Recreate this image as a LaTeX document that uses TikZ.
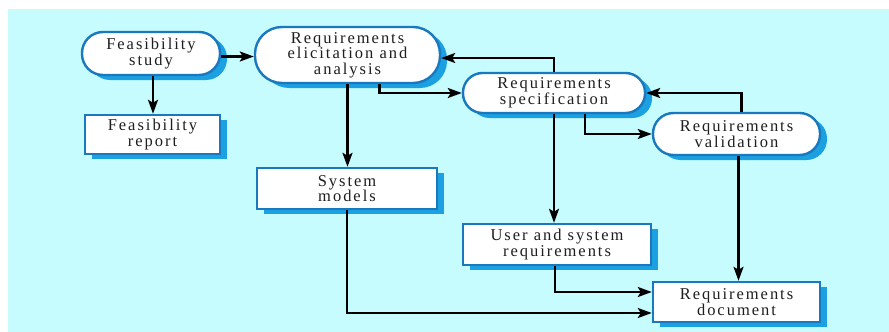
\documentclass[tikz,border=0pt]{standalone}
\usepackage{fontspec}
\setmainfont{Liberation Serif}[LetterSpace=12]
\usetikzlibrary{arrows.meta,shadows}
\definecolor{bgc}{RGB}{198,252,253}
\definecolor{edgec}{RGB}{25,120,190}
\definecolor{shadc}{RGB}{27,160,225}
\definecolor{txtc}{RGB}{30,30,30}
\begin{document}
\begin{tikzpicture}[x=1pt,y=-1pt,
  boxbase/.style={draw=edgec, line width=2.4pt, fill=white, align=center,
    text=txtc, font=\fontsize{16.5}{15.5}\selectfont, inner sep=0pt,
    drop shadow={shadow xshift=7pt, shadow yshift=-5pt, fill=shadc, opacity=1}},
  procbox/.style={boxbase},
  databox/.style={boxbase},
  flow/.style={line width=2.4pt, black, -{Stealth[length=14pt,width=10pt,inset=3pt]}}]
\useasboundingbox (0,0) rectangle (889,332);
\fill[white] (0,0) rectangle (889,332);
\fill[bgc] (8,9) rectangle (889,332);

\node[procbox, rounded corners=21pt, minimum width=138pt, minimum height=43pt] (fs) at (151,53.5) {Feasibility\\study};
\node[databox, minimum width=135pt, minimum height=39pt] (fr) at (152.5,134.5) {Feasibility\\report};
\node[procbox, rounded corners=27pt, minimum width=185pt, minimum height=56pt] (el) at (347.5,55) {Requirements\\elicitation and\\analysis};
\node[databox, minimum width=180pt, minimum height=41pt] (sm) at (347,188.5) {System\\models};
\node[procbox, rounded corners=19.5pt, minimum width=182pt, minimum height=40pt] (sp) at (554,93) {Requirements\\specification};
\node[procbox, rounded corners=20.5pt, minimum width=167pt, minimum height=42pt] (va) at (736.5,134) {Requirements\\validation};
\node[databox, minimum width=188pt, minimum height=41pt] (us) at (557,244.5) {User and system\\requirements};
\node[databox, minimum width=167pt, minimum height=40pt] (rd) at (736.5,302) {Requirements\\document};

\draw[flow] ([yshift=-3pt]fs.east) -- ([yshift=-3pt]fs.east -| el.west);
\draw[flow] ([xshift=2pt]fs.south) -- ([xshift=2pt]fs.south |- fr.north);
\draw[flow] (el.south) -- (el.south |- sm.north);
\draw[flow] ([xshift=32pt]el.south) |- (sp.west);
\draw[flow] (sp.north) |- ([yshift=-3pt]el.east);
\draw[flow] ([xshift=5pt]va.north) |- (sp.east);
\draw[flow] ([xshift=31pt]sp.south) |- (va.west);
\draw[flow] (sp.south) -- (sp.south |- us.north);
\draw[flow] ([xshift=2pt]va.south) -- ([xshift=2pt]va.south |- rd.north);
\draw[flow] ([xshift=-2pt]us.south) |- ([yshift=10pt]rd.west);
\draw[flow] (sm.south) |- ([yshift=-11pt]rd.west);
\end{tikzpicture}
\end{document}
